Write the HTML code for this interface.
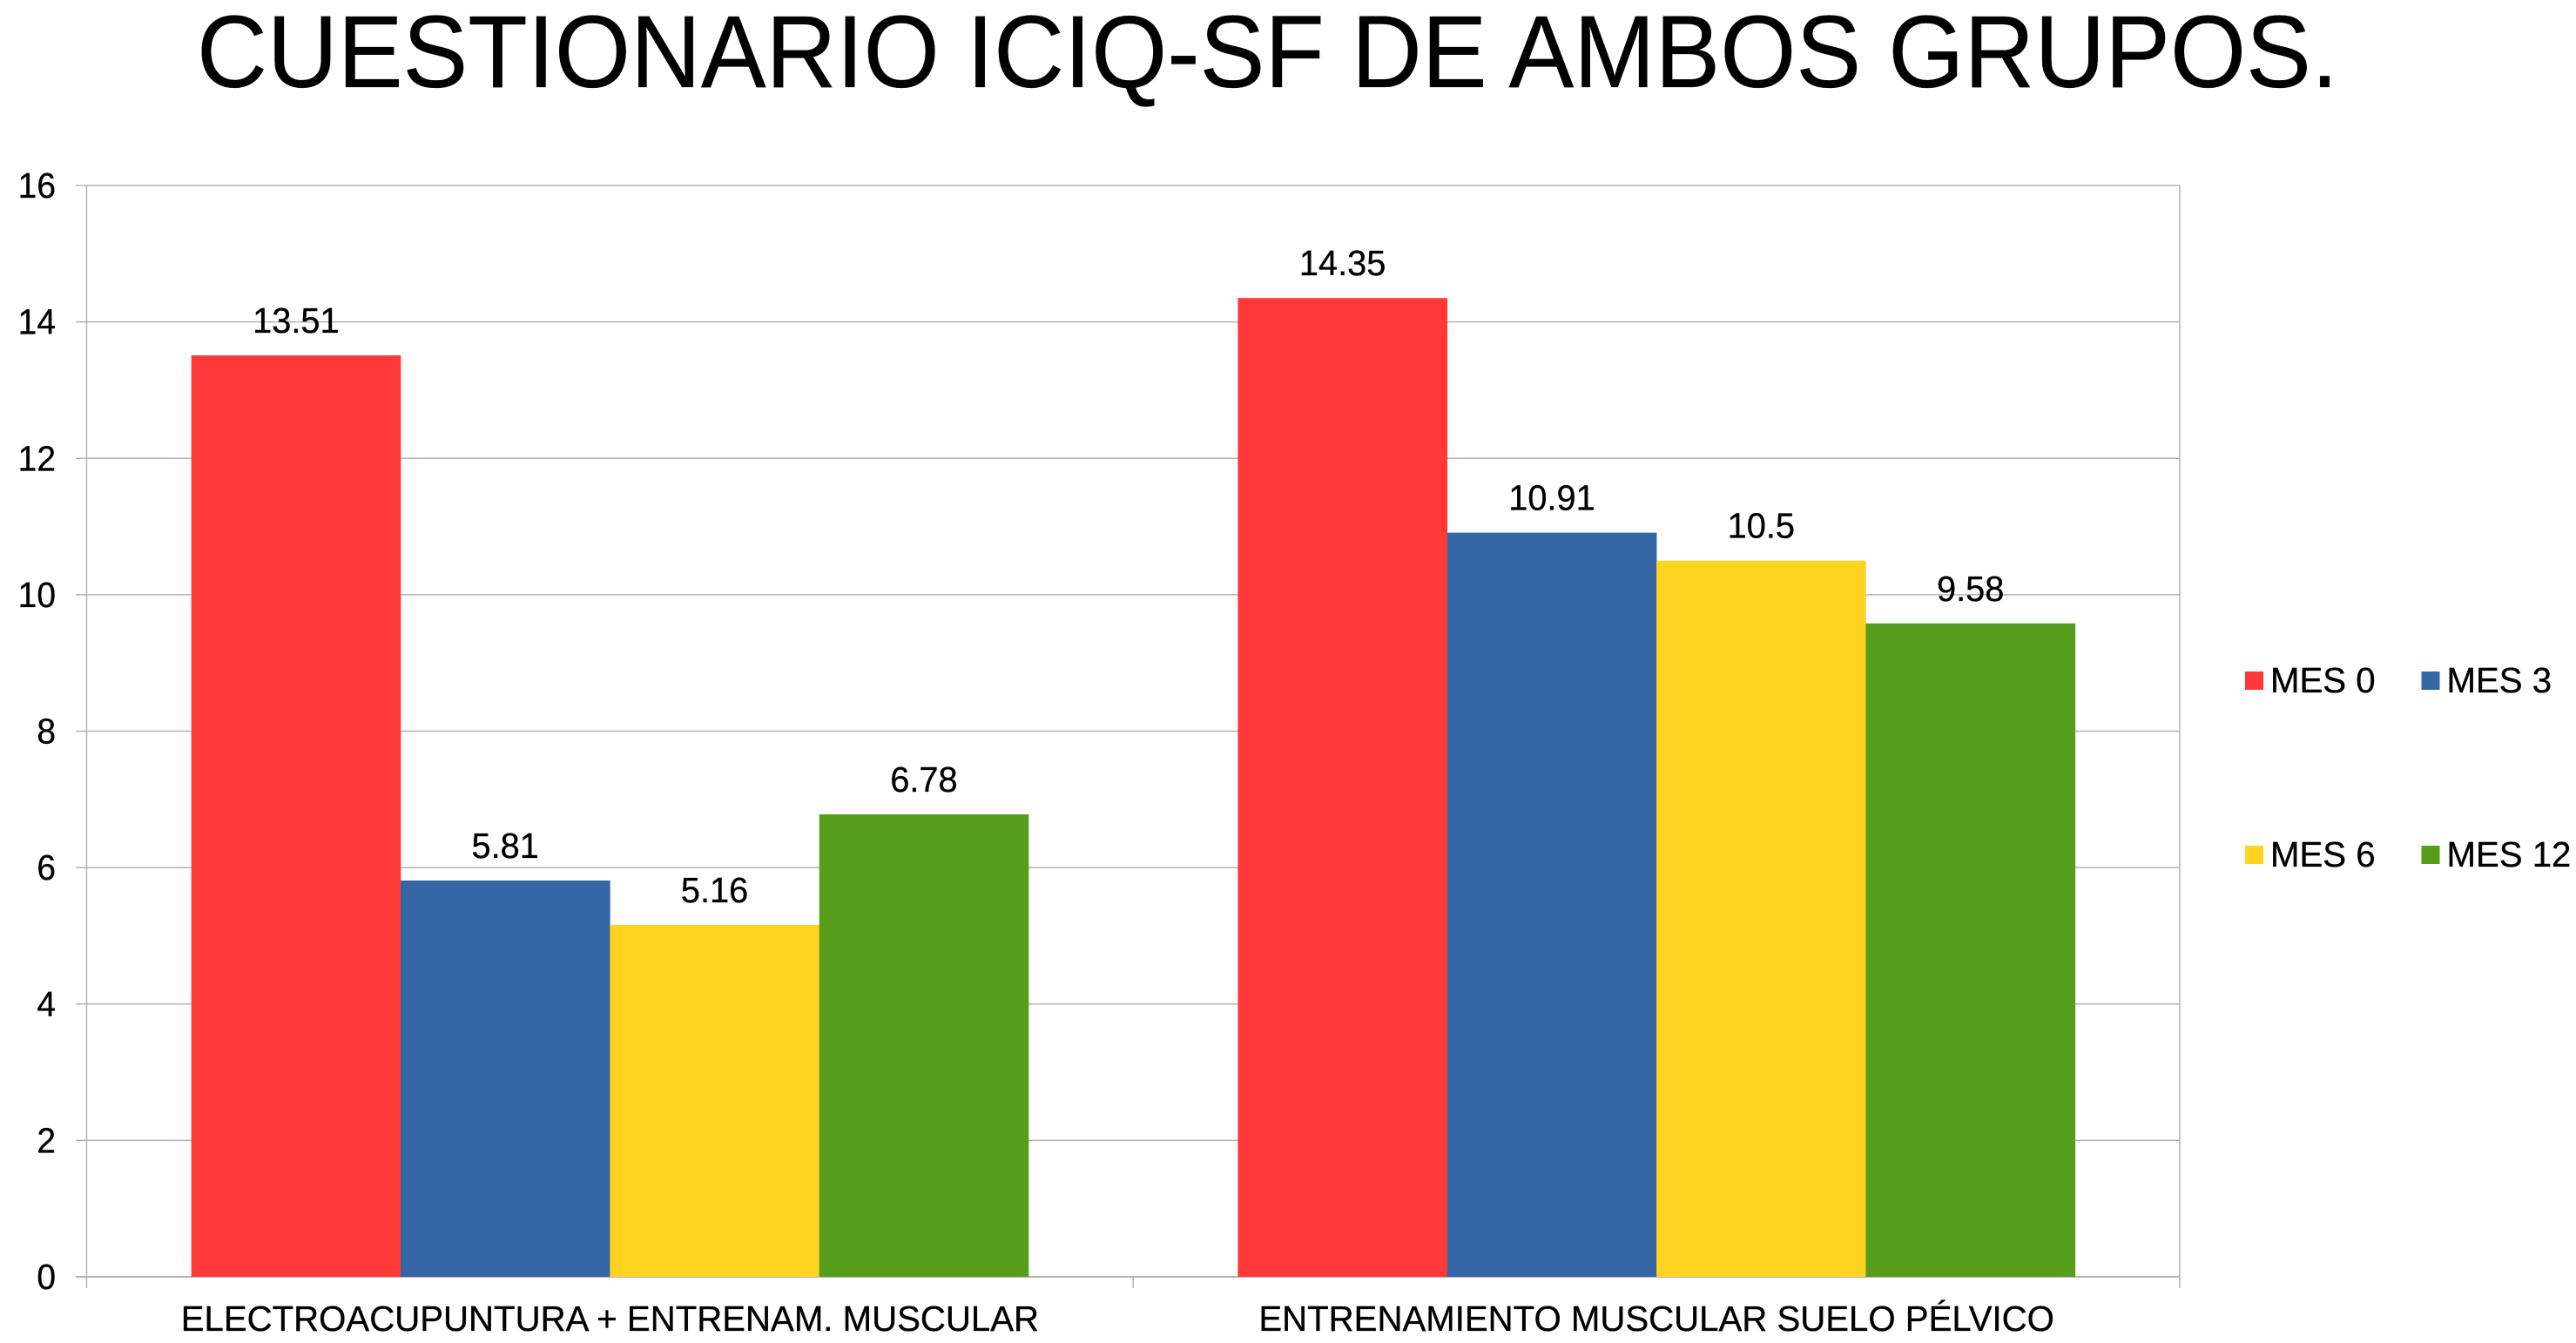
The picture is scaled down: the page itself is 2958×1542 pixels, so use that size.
<!DOCTYPE html>
<html lang="es">
<head>
<meta charset="utf-8">
<title>Cuestionario ICIQ-SF de ambos grupos</title>
<style>
html,body{margin:0;padding:0;background:#fff;width:2958px;height:1542px;overflow:hidden}
svg{display:block}
text{font-family:"Liberation Sans",sans-serif;fill:#000;stroke:#000;stroke-width:0.35px}
</style>
</head>
<body>
<svg id="chart" xmlns="http://www.w3.org/2000/svg" width="2958" height="1542" viewBox="0 0 2958 1542">
<rect x="0" y="0" width="2958" height="1542" fill="#ffffff"/>
<text x="226" y="100" font-size="118" textLength="2459" lengthAdjust="spacingAndGlyphs">CUESTIONARIO ICIQ-SF DE AMBOS GRUPOS.</text>
<g id="grid"></g>
<g id="bars"></g>
<g id="axes"></g>
<g id="ylabels"></g>
<g id="xlabels"></g>
<g id="values"></g>
<g id="legend"></g>
</svg>
<script>
const categories = ["ELECTROACUPUNTURA + ENTRENAM. MUSCULAR", "ENTRENAMIENTO MUSCULAR SUELO PÉLVICO"];
const seriesNames = ["MES 0", "MES 3", "MES 6", "MES 12"];
const mes0 = [13.51, 14.35];
const mes3 = [5.81, 10.91];
const mes6 = [5.16, 10.5];
const mes12 = [6.78, 9.58];
const yTicks = [0, 2, 4, 6, 8, 10, 12, 14, 16];

const seriesValues = [mes0, mes3, mes6, mes12];
const seriesColors = ["#ff3838", "#3465a4", "#ffd320", "#579d1c"];
const NS = "http://www.w3.org/2000/svg";
const plot = {left: 99.5, right: 2503, top: 213, bottom: 1466};
const yMax = yTicks[yTicks.length - 1];
const yScale = v => plot.bottom - (v / yMax) * (plot.bottom - plot.top);
const catWidth = (plot.right - plot.left) / categories.length;
const barWidth = catWidth * 0.8 / seriesValues.length;
const xScale = (c, s) => plot.left + catWidth * (c + 0.1) + barWidth * s;
const catCenter = c => plot.left + catWidth * (c + 0.5);

function make(tag, parent, attrs) {
  const el = document.createElementNS(NS, tag);
  for (const k in attrs) el.setAttribute(k, attrs[k]);
  document.getElementById(parent).appendChild(el);
  return el;
}
function label(parent, str, x, y, size, sx, anchor) {
  const el = make("text", parent, {transform: "translate(" + x + " " + y + ") scale(" + sx + " 1)", "font-size": size, "text-anchor": anchor});
  el.textContent = str;
  return el;
}

yTicks.forEach(t => {
  const y = yScale(t);
  const line = make("line", "grid", {x1: 87, x2: plot.right, y1: y, y2: y, stroke: "#b3b3b3", "stroke-width": t === 0 ? 2 : 1.5});
  
  
  const tl = label("ylabels", String(t), 64, y + 14, 41, 0.95, "end");
  
  
});

seriesValues.forEach((vals, s) => {
  vals.forEach((v, c) => {
    const y = yScale(v);
    const bar = make("rect", "bars", {x: xScale(c, s), y: y, width: barWidth + 0.3, height: plot.bottom - y, fill: seriesColors[s]});
    
    
    const vl = label("values", String(v), xScale(c, s) + barWidth / 2, y - 26, 41, 0.97, "middle");
    
    
  });
});

[[plot.left, plot.top, 1479], [plot.right, plot.top, 1479], [catCenter(0) + catWidth / 2, plot.bottom, 1479]].forEach(a => {
  const axis = make("line", "axes", {x1: a[0], x2: a[0], y1: a[1], y2: a[2], stroke: "#b3b3b3", "stroke-width": 1.5});
  
  
});

categories.forEach((name, c) => {
  const cl = label("xlabels", name, catCenter(c), 1528, 41, 0.98, "middle");
  
  
});

const legendCols = [2578, 2780.5];
const legendRows = [771, 971];
seriesNames.forEach((name, i) => {
  const lx = legendCols[i % 2];
  const ly = legendRows[Math.floor(i / 2)];
  const sw = make("rect", "legend", {x: lx, y: ly, width: 21, height: 21, fill: seriesColors[i]});
  
  
  const lt = label("legend", name, lx + 29, ly + 24, 41, 0.98, "start");
  
  
});
</script>
</body>
</html>
